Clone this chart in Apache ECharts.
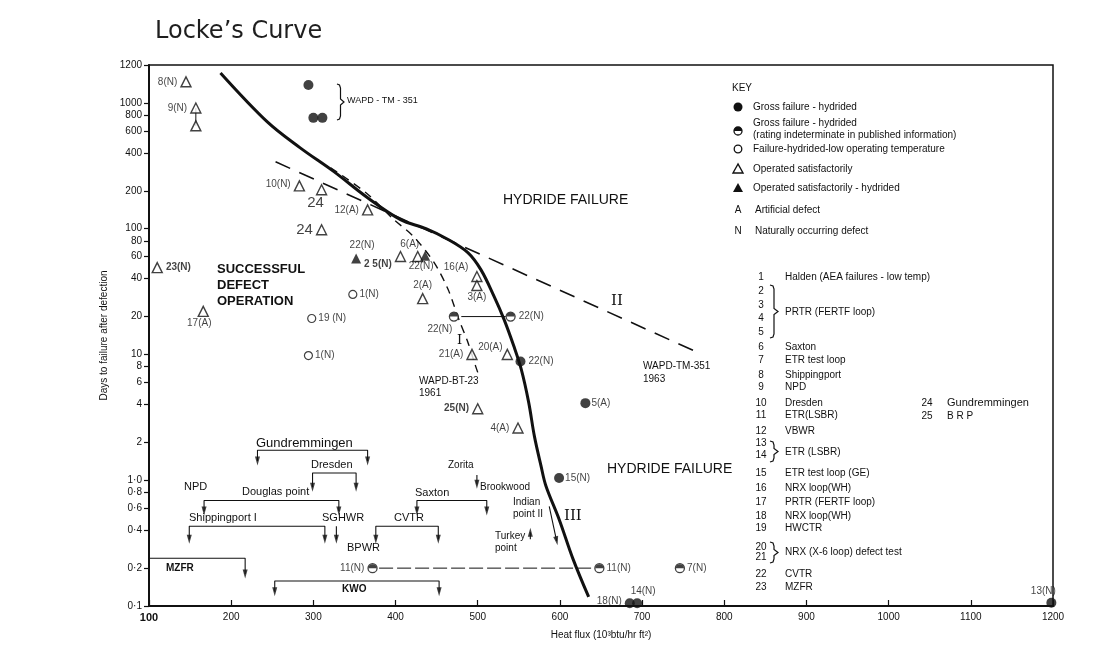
<!DOCTYPE html>
<html><head><meta charset="utf-8">
<script src="https://cdn.jsdelivr.net/npm/echarts@6/dist/echarts.min.js"></script>
<style>html,body{margin:0;padding:0;background:#fff}#c{width:1111px;height:661px}</style>
</head><body><div id="c"></div>
<script>
// ---------------- DATA ----------------
const yTickValues = [0.1,0.2,0.4,0.6,0.8,1,2,4,6,8,10,20,40,60,80,100,200,400,600,800,1000,2000];
const yTickLabels = ['0·1','0·2','0·4','0·6','0·8','1·0','2','4','6','8','10','20','40','60','80','100','200','400','600','800','1000','1200'];

// Locke's curve (solid)
const curveX = [187,244,284,325,366,406,437,464,488,504,520,532,544,553,562,569,577,583,599,616,635];
const curveY = [1730,706,439,284,176,118,100,82,64.5,47,28.8,19,11.6,7.6,4.16,2.23,1.3,0.9,0.49,0.236,0.118];
// Curve I  WAPD-BT-23 1961 (dashed)
const curveIX = [321,364,398,422,447,464,477,488,496,500];
const curveIY = [305,193,118,86.4,53.7,32.8,19,12.5,8.6,7.2];
// Curve II WAPD-TM-351 1963 (dashed, straight)
const curveIIX = [254,773];
const curveIIY = [340,10];

// Operated satisfactorily (open triangles)
const okX = [145,157,157,283,310,366,310,110,166,406,427,499,499,433,493,536,500,549];
const okY = [1470,910,657,219,204,141,98,49,22,60,60,41.6,35.3,27.8,10,10,3.7,2.6];
const okLab = ['8(N)','9(N)','','10(N)','24','12(A)','24','23(N)','17(A)','2 5(N)','6(A)','16(A)','3(A)','2(A)','21(A)','20(A)','25(N)','4(A)'];
// Operated satisfactorily - hydrided (filled triangles)
const okHX = [352,436];
const okHY = [57.8,61];
const okHLab = ['22(N)','22(N)'];
// Gross failure - hydrided (filled circles)
const grossX = [294,300,311,552,631,599,685,694,1198];
const grossY = [1389,760,760,8.8,4.1,1.04,0.105,0.105,0.106];
const grossLab = ['','','','22(N)','5(A)','15(N)','18(N)','14(N)','13(N)'];
// Gross failure - hydrided, rating indeterminate (half circles)
const halfX = [471,540,372,648,746];
const halfY = [20,20,0.2,0.2,0.2];
const halfLab = ['22(N)','22(N)','11(N)','11(N)','7(N)'];
// Failure - hydrided - low operating temperature (open circles)
const lowX = [348,294,298];
const lowY = [30,9.8,19.3];
const lowLab = ['1(N)','1(N)','19 (N)'];

// Reactor heat-flux ranges (arrows)
const rangeFrom  = [232,299,167,149,376,426,100,253];
const rangeTo    = [366,352,331,314,452,511,217,453];
const rangeLevel = [1.73,1.14,0.69,0.43,0.43,0.69,0.24,0.158];
const rangeTip   = [1.42,0.88,0.57,0.34,0.34,0.57,0.18,0.13];
const rangeLeftArrow = [true,true,true,true,true,true,false,true];
// Single arrows: SGHWR, Zorita, Indian point II, Turkey point
const arrX0 = [328,499,587,564];
const arrY0 = [0.43,1.1,0.62,0.34];
const arrX1 = [328,499,596,564];
const arrY1 = [0.34,0.93,0.33,0.385];

// ---------------- STYLE / LAYOUT ----------------
const FONT = '"Liberation Sans", Arial, sans-serif';
const INK = '#111111';
// label placement per point: [position, dx, dy]
const okPos = [['left',0,0],['left',0,0],['left',0,0],['left',0,-2],['bottom',-6,-3],['left',0,0],['left',0,0],['right',0,0],['bottom',-4,-2],['left',0,8],['top',-8,1],['left',0,-9],['bottom',0,-2],['top',0,0],['left',0,0],['left',4,-7],['left',0,0],['left',0,0]];
const okBig = [false,false,false,false,true,false,true,false,false,false,false,false,false,false,false,false,false,false];
const okBold = [false,false,false,false,false,false,false,true,false,true,false,false,false,false,false,false,true,false];
const okHPos = [['top',6,0],['bottom',-4,-2]];
const grossPos = [['left',0,0],['left',0,0],['left',0,0],['right',0,0],['right',-2,0],['right',-2,0],['left',0,-2],['top',6,1],['top',-8,1]];
const halfPos = [['bottom',-14,0],['right',0,0],['left',0,0],['right',-1,0],['right',-1,0]];
const lowPos = [['right',-1,0],['right',-1,0],['right',-1,0]];

function pts(xs, ys){ return xs.map((x,i)=>[x,ys[i]]); }
function items(xs, ys, labs, pos, big, bold){
  return xs.map((x,i)=>({
    value:[x,ys[i]],
    label:{show:!!labs[i], formatter:labs[i], position:pos[i][0], offset:[pos[i][1],pos[i][2]],
      color:INK, fontFamily:FONT,
      fontSize: big&&big[i]?15:10, fontWeight: bold&&bold[i]?'bold':'normal', distance:3}
  }));
}
const labelBase = {color:INK, fontFamily:FONT, fontSize:10};

const series = [];
series.push({type:'line', name:'Locke', data:pts(curveX,curveY), smooth:0.35, symbol:'none',
  lineStyle:{color:INK,width:3}, z:3});
series.push({type:'line', name:'I', data:pts(curveIX,curveIY), smooth:0.3, symbol:'none',
  lineStyle:{color:INK,width:1.4,type:[8,6]}, z:2});
series.push({type:'line', name:'II', data:pts(curveIIX,curveIIY), symbol:'none',
  lineStyle:{color:INK,width:1.6,type:[16,10]}, z:2});
series.push({type:'line', data:[[okX[1],okY[1]],[okX[2],okY[2]]], symbol:'none', lineStyle:{color:INK,width:1}, z:2});
series.push({type:'line', data:[[halfX[0]+9,halfY[0]],[halfX[1]-6,halfY[1]]], symbol:'none', lineStyle:{color:INK,width:1}, z:2});
series.push({type:'line', data:[[halfX[2]+8,halfY[2]],[halfX[3]-7,halfY[3]]], symbol:'none', lineStyle:{color:INK,width:1,type:[14,4]}, z:2});
for(let i=0;i<rangeFrom.length;i++){
  const d = [];
  if(rangeLeftArrow[i]) d.push([rangeFrom[i],rangeTip[i]]);
  d.push([rangeFrom[i],rangeLevel[i]],[rangeTo[i],rangeLevel[i]],[rangeTo[i],rangeTip[i]]);
  series.push({type:'line', data:d, symbol:'none', lineStyle:{color:INK,width:1.1}, z:2});
}
for(let i=0;i<arrX0.length;i++){
  series.push({type:'line', data:[[arrX0[i],arrY0[i]],[arrX1[i],arrY1[i]]], symbol:'none', lineStyle:{color:INK,width:1.1}, z:2});
}
const heads = [];
for(let i=0;i<rangeFrom.length;i++){
  if(rangeLeftArrow[i]) heads.push({value:[rangeFrom[i],rangeTip[i]], symbolRotate:180});
  heads.push({value:[rangeTo[i],rangeTip[i]], symbolRotate:180});
}
const arrRot = [180,180,192,0];
for(let i=0;i<arrX1.length;i++) heads.push({value:[arrX1[i],arrY1[i]], symbolRotate:arrRot[i]});
series.push({type:'scatter', data:heads, symbol:'triangle', symbolSize:[5,9], itemStyle:{color:INK}, z:4, silent:true});

series.push({type:'scatter', name:'Operated satisfactorily', data:items(okX,okY,okLab,okPos,okBig,okBold),
  symbol:'triangle', symbolSize:10, itemStyle:{color:'#fff',borderColor:INK,borderWidth:1.4}, label:labelBase, z:5});
series.push({type:'scatter', name:'Operated satisfactorily - hydrided', data:items(okHX,okHY,okHLab,okHPos),
  symbol:'triangle', symbolSize:10, itemStyle:{color:INK}, label:labelBase, z:5});
series.push({type:'scatter', name:'Gross failure - hydrided', data:items(grossX,grossY,grossLab,grossPos),
  symbol:'circle', symbolSize:10, itemStyle:{color:INK}, label:labelBase, z:5});
series.push({type:'scatter', name:'Gross failure - hydrided (indeterminate)', data:items(halfX,halfY,halfLab,halfPos),
  symbol:'circle', symbolSize:9, itemStyle:{color:'#fff',borderColor:INK,borderWidth:1.3}, label:labelBase, z:5});
series.push({type:'scatter', data:pts(halfX,halfY), symbol:'path://M0,10 A10,10 0 0 1 20,10 Z',
  symbolSize:[8,4], symbolOffset:[0,-2], itemStyle:{color:INK}, z:6, silent:true});
series.push({type:'scatter', name:'Failure - hydrided - low operating temperature', data:items(lowX,lowY,lowLab,lowPos),
  symbol:'circle', symbolSize:8, itemStyle:{color:'#fff',borderColor:INK,borderWidth:1.2}, label:labelBase, z:5});

// ---------------- GRAPHIC ANNOTATIONS ----------------
function txt(x,y,t,opt){ opt=opt||{}; return {type:'text', x:x, y:y, z:10, style:Object.assign({text:t, fill:INK,
  font:(opt.weight||'normal')+' '+(opt.size||10)+'px '+(opt.family||FONT), textVerticalAlign:'middle', textAlign:opt.align||'left'}, opt.style||{})}; }
function brace(x,y0,y1,w){
  const ym=(y0+y1)/2, h=w/2;
  return {type:'polyline', z:10, shape:{points:[[x,y0],[x+h-1,y0+1],[x+h,y0+4],[x+h,ym-3],[x+w,ym],[x+h,ym+3],[x+h,y1-4],[x+h-1,y1-1],[x,y1]]},
    style:{fill:null, stroke:INK, lineWidth:1.2}};
}
const SERIF = '"DejaVu Serif", "Liberation Serif", serif';
const g = [];
g.push(brace(337,84,120,7), txt(347,101,'WAPD - TM - 351',{size:9}));
g.push(txt(503,200,'HYDRIDE FAILURE',{size:14}), txt(607,469,'HYDRIDE FAILURE',{size:14}));
g.push(txt(217,269,'SUCCESSFUL',{size:13,weight:'bold'}), txt(217,285,'DEFECT',{size:13,weight:'bold'}), txt(217,301,'OPERATION',{size:13,weight:'bold'}));
g.push(txt(611,301,'II',{size:15,family:SERIF}), txt(457,341,'I',{size:13,family:SERIF}), txt(564,516,'III',{size:15,family:SERIF}));
g.push(txt(643,366,'WAPD-TM-351',{size:10}), txt(643,379,'1963',{size:10}));
g.push(txt(419,381,'WAPD-BT-23',{size:10}), txt(419,393,'1961',{size:10}));
g.push(txt(256,443,'Gundremmingen',{size:13}), txt(311,465,'Dresden',{size:11}), txt(184,487,'NPD',{size:11}),
  txt(242,492,'Douglas point',{size:11}), txt(189,518,'Shippingport I',{size:11}), txt(322,518,'SGHWR',{size:11}),
  txt(394,518,'CVTR',{size:11}), txt(347,548,'BPWR',{size:11}), txt(415,493,'Saxton',{size:11}),
  txt(448,465,'Zorita',{size:10}), txt(480,487,'Brookwood',{size:10}), txt(513,502,'Indian',{size:10}), txt(513,514,'point II',{size:10}),
  txt(495,536,'Turkey',{size:10}), txt(495,548,'point',{size:10}), txt(166,568,'MZFR',{size:10,weight:'bold'}), txt(342,589,'KWO',{size:10,weight:'bold'}));
g.push(txt(732,88,'KEY',{size:10}));
g.push({type:'circle', z:10, shape:{cx:738,cy:107,r:4.5}, style:{fill:INK}}, txt(753,107,'Gross failure - hydrided',{size:10}));
g.push({type:'circle', z:10, shape:{cx:738,cy:131,r:4}, style:{fill:'#fff',stroke:INK,lineWidth:1.3}},
  {type:'sector', z:11, shape:{cx:738,cy:131,r0:0,r:4,startAngle:Math.PI,endAngle:2*Math.PI}, style:{fill:INK}},
  txt(753,123,'Gross failure - hydrided',{size:10}), txt(753,135,'(rating indeterminate in published information)',{size:10}));
g.push({type:'circle', z:10, shape:{cx:738,cy:149,r:3.8}, style:{fill:'#fff',stroke:INK,lineWidth:1.3}}, txt(753,149,'Failure-hydrided-low operating temperature',{size:10}));
g.push({type:'polygon', z:10, shape:{points:[[738,164],[733,173],[743,173]]}, style:{fill:'#fff',stroke:INK,lineWidth:1.4}}, txt(753,169,'Operated satisfactorily',{size:10}));
g.push({type:'polygon', z:10, shape:{points:[[738,183],[733,192],[743,192]]}, style:{fill:INK}}, txt(753,188,'Operated satisfactorily - hydrided',{size:10}));
g.push(txt(738,210,'A',{size:10,align:'center'}), txt(755,210,'Artificial defect',{size:10}));
g.push(txt(738,231,'N',{size:10,align:'center'}), txt(755,231,'Naturally occurring defect',{size:10}));
const keyNums = ['1','2','3','4','5','6','7','8','9','10','11','12','13','14','15','16','17','18','19','20','21','22','23'];
const keyNumY = [277,291,305,318,332,347,360,375,387,403,415,431,443,455,473,488,502,516,528,547,557,574,587];
keyNums.forEach((n,i)=>g.push(txt(761,keyNumY[i],n,{size:10,align:'center'})));
const keyNames = ['Halden (AEA failures - low temp)','PRTR (FERTF loop)','Saxton','ETR test loop','Shippingport','NPD','Dresden','ETR(LSBR)','VBWR','ETR (LSBR)','ETR test loop (GE)','NRX loop(WH)','PRTR (FERTF loop)','NRX loop(WH)','HWCTR','NRX (X-6 loop) defect test','CVTR','MZFR'];
const keyNameY = [277,312,347,360,375,387,403,415,431,452,473,488,502,516,528,552,574,587];
keyNames.forEach((n,i)=>g.push(txt(785,keyNameY[i],n,{size:10})));
g.push(brace(770,285,338,8), brace(770,441,462,8), brace(770,542,563,8));
g.push(txt(927,403,'24',{size:10,align:'center'}), txt(947,403,'Gundremmingen',{size:11}),
  txt(927,416,'25',{size:10,align:'center'}), txt(947,416,'B R P',{size:10}));

// ---------------- CHART ----------------
function yLabel(v){
  let best=0, bd=1e9;
  yTickValues.forEach((t,i)=>{const d=Math.abs(Math.log10(v)-Math.log10(t)); if(d<bd){bd=d;best=i;}});
  return bd<0.02 ? yTickLabels[best] : '';
}
const chart = echarts.init(document.getElementById('c'), null, {renderer:'canvas'});
chart.setOption({
  animation:false,
  backgroundColor:'#fff',
  title:{text:'Locke’s Curve', left:150, top:15, textStyle:{fontSize:24, fontWeight:'normal', color:'#1e1e1e', fontFamily:'"DejaVu Sans", sans-serif'}},
  grid:{left:149, right:58, top:65, bottom:55, show:true, borderColor:INK, borderWidth:1.5, backgroundColor:'transparent'},
  xAxis:{type:'value', min:100, max:1200, interval:100,
    name:'Heat flux (10³btu/hr ft²)', nameLocation:'middle', nameGap:24,
    nameTextStyle:{fontFamily:FONT, fontSize:10, color:INK},
    axisLine:{show:true, onZero:false, lineStyle:{color:INK,width:2}},
    axisTick:{show:true, inside:true, length:6, lineStyle:{color:INK,width:1.2}},
    axisLabel:{fontFamily:FONT, fontSize:10, color:INK, margin:6,
      formatter:v=> v===100 ? '{b|100}' : String(v), rich:{b:{fontWeight:'bold',fontSize:11,fontFamily:FONT,color:INK}}},
    splitLine:{show:false}},
  yAxis:{type:'log', logBase:10, min:0.1, max:2000,
    name:'Days to failure after defection', nameLocation:'middle', nameGap:38,
    nameTextStyle:{fontFamily:FONT, fontSize:10, color:INK},
    axisLine:{show:true, lineStyle:{color:INK,width:2}},
    axisTick:{show:true, inside:false, length:5, customValues:yTickValues, lineStyle:{color:INK,width:1.2}},
    axisLabel:{fontFamily:FONT, fontSize:10, color:INK, margin:7, customValues:yTickValues, formatter:yLabel},
    minorTick:{show:false}, splitLine:{show:false}},
  series:series,
  graphic:g
});
</script></body></html>
